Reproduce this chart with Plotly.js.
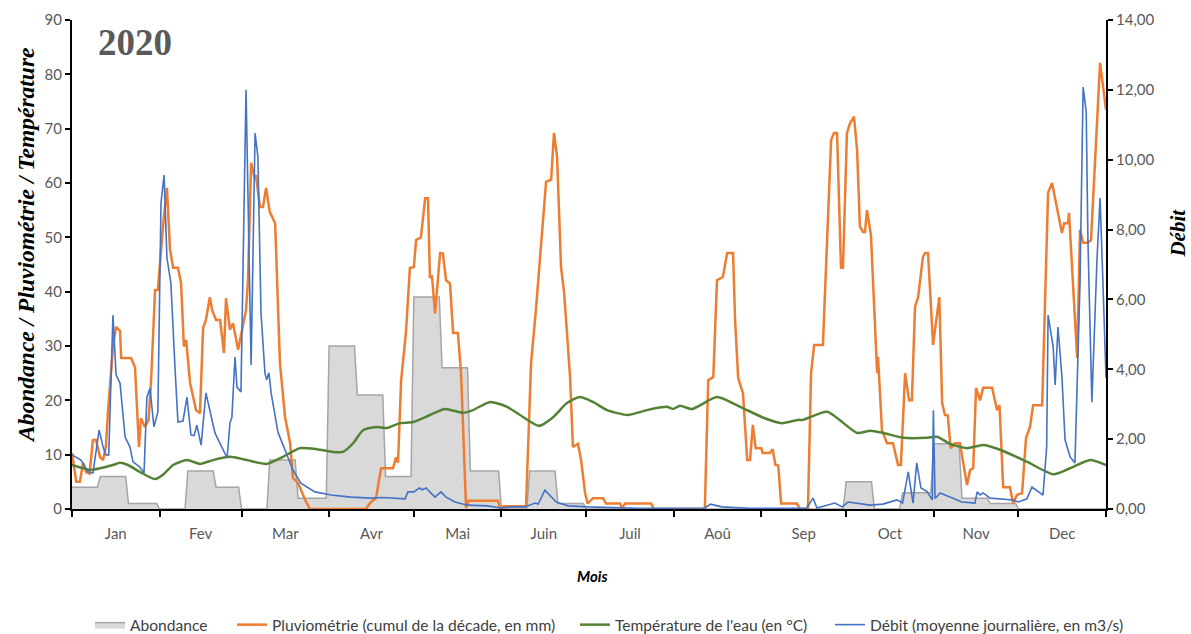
<!DOCTYPE html>
<html>
<head>
<meta charset="utf-8">
<script src="https://cdn.plot.ly/plotly-3.0.1.min.js"></script>
<style>html,body{margin:0;padding:0;background:#fff}#chart{width:1191px;height:634px}</style>
</head>
<body>
<div id="chart"></div>
<script>
// ---- Data ----
const monthLabels = ["Jan","Fev","Mar","Avr","Mai","Juin","Juil","Aoû","Sep","Oct","Nov","Dec"];
const monthStartDays = [0,31,60,91,121,152,182,213,244,274,305,335,366];

// Abondance (decadal values, 3 per month)
const decadeStartDays = [0,10,20, 31,41,51, 60,70,80, 91,101,111, 121,131,141, 152,162,172, 182,192,202, 213,223,233, 244,254,264, 274,284,294, 305,315,325, 335,345,355, 366];
const abondance = [4,6,1, 0,7,4, 0,9,2, 30,21,6, 39,26,7, 0,7,1, 0,0,0, 0,0,0, 0,0,0, 5,0,3, 12,2,1, 0,0,0];

// Pluviométrie (cumul de la décade, mm)
const pluvioDays = [0,1.5,2.8,3.9,5,6.2,7.4,8.5,9.9,11,12,12.7,14.5,15.6,17,17.4,20.9,22.3,23.7,24.4,25.8,27.1,28,29.4,30.4,32.2,33.6,34.7,35.8,37.5,38.6,39.6,40.4,41.8,43.9,45.3,46.4,47.4,48.8,49.6,51,52.4,53.8,54.5,55.9,57,58.8,60.5,61.6,62.3,63.4,64.8,65.1,66.5,67.6,68.7,70,71.9,73.6,75.4,77.2,78.2,80,82.5,84.2,104,105.8,107.6,109.4,113.6,114.7,115.4,116.5,118.2,119.6,121,121.8,123.5,125,126,126.7,127.4,128.5,130.3,131.3,132.4,133.8,134.9,136.6,137.7,139.5,140.3,150.8,151.6,152.6,160.7,162.5,164.2,165.7,167.8,169.6,170.6,171.7,173.1,174.2,176.3,177.3,179.1,180.2,181.6,182.5,184.4,188,189,194,194.6,195.8,205,206,224,225.2,227,228.3,230.4,231.9,234,234.7,235.8,237.5,239,240,241,242,244,244.5,247,248,249,250,251,256.6,257.7,260.5,261.6,262.7,265.8,268.7,269.7,270.8,272.2,272.9,274.3,275.4,276.8,277.9,278.9,280,280.7,281.4,282.8,285,285.3,286.7,288.5,290.6,292.4,293.4,294.9,296.3,297.3,298.4,299.5,301.2,302,303,304.8,307,308,309,310,311,312.6,314.3,316.8,317.9,319,320,321.4,322.5,325.7,327.4,328.3,329.6,332,333.1,334.5,336.3,337.7,339.1,340.2,343.4,345.5,346.9,348.7,350.4,351.2,352.6,352.9,354.3,355.8,356.8,357.9,359.6,360.7,363.9,366];
const pluvioVals = [10.3,5,5,8.5,6.8,6.5,12.7,12.7,9.6,9,11.5,17.6,29.9,33.5,32.8,27.8,27.8,26.1,11.4,16.7,15.1,16.4,23.7,40.3,40.3,52,59.1,47.7,44.4,44.4,41.6,29.9,31.1,23.2,18.2,17.6,33.3,34.8,39,36.6,34.8,34.8,28.7,38.8,33,34.2,29.3,33.5,36.6,42.1,63.7,60.6,61.5,55.6,55.6,59.1,54.7,52.6,26.9,17,12.1,5.7,4.8,1.7,0,0,1.3,2,7.5,7.5,9.5,8.5,23.7,32.4,44.4,44.5,49.5,50,57.2,57.2,42.5,43,36,47.1,47,42.1,41.5,32.4,32.4,25,0.2,1.5,1.5,0,0.5,0.5,26.9,36.6,46.4,60.2,60.6,69.2,64.8,44.5,39.8,24.3,11.4,12,9,3,1,2,2,1,1,0.2,1,1,0,0,23.7,24.3,42.1,42.7,47.1,47.1,34.8,24.1,21.3,9,9,15.5,11.2,11.2,10.3,10.3,11,8.1,8,1,1,0,0,25,30.2,30.2,67.9,69.2,69.2,44.4,44.4,69.2,71,72.2,66,52,51,51,55,50.4,25,28,14.5,12.1,12.1,8.1,8.1,25,20,20,37.2,39,46.4,47.1,47.1,30.2,39,19.5,17.3,17.2,11.2,12.1,12.1,4.4,7.2,7.5,22.3,20,22.3,22.3,18.2,19.1,4,4,1,2.6,2.9,13.1,15.1,19.1,19.1,58.2,60,55.6,50.8,52.6,52.6,54.5,40.3,27.8,51.4,49,49,49.5,82.1,73.5];

// Température de l'eau (°C)
const tempDays = [0,6.4,9.9,14.5,17,19.8,24.1,29.4,32.2,35.8,40.7,45.3,49.9,55.9,61.9,69,74.7,80.7,86.7,92.4,95.9,99.5,103,108,111.5,116.1,120.7,126.7,132,138.4,141.9,148,154,158.6,165.3,170.3,175.2,179.8,184.4,189.4,196.8,203.5,210.6,212.7,215.2,219.5,228.3,236.5,245.2,251.3,257,258.8,267.3,277.9,282.5,287.1,294.2,302.7,306.2,310.8,316.8,322.5,328.5,338,347.3,353.3,360.4,366];
const tempVals = [8.1,7.2,7.5,8.1,8.5,8.1,6.8,5.5,6.3,8.1,9,8.3,9,9.6,9,8.3,9.6,11.2,11,10.5,10.5,12.1,14.5,15.1,14.9,15.8,16,17.3,18.4,17.7,18.2,19.7,18.8,17.3,15.3,16.9,19.5,20.6,19.7,18.2,17.3,18.2,18.8,18.4,19,18.4,20.6,18.8,16.7,15.8,16.4,16.4,17.9,14,14.4,14,13.1,13.1,13.3,12,11.2,11.8,10.9,8.7,6.4,7.5,9,8.1];

// Débit (moyenne journalière, m3/s)
const debitDays = [0,3.2,5.7,7.4,9.6,11,12,13,14.5,15.6,17,18.8,20.5,21.6,24,25.5,26.5,27.6,29,30.4,31.5,32.6,33.6,35,36.5,37.5,39.3,40.7,42.1,43.2,44.2,45.7,47.4,50.6,54.9,55.9,56.6,57.7,58.4,59.8,61.6,63.4,64.8,65.8,66.9,68.3,68.9,69.7,70.5,72.9,75.4,78.2,81,86,91.7,98.8,105.8,110,117.9,118.9,121,123,124,125.3,127,128.5,130.6,132.4,135.6,140,147,151.9,155.5,160.4,163.9,165,167.4,168.5,171.4,175.6,182.7,200,224,226,230,240,260,262.3,263.7,270,272.6,274.7,278,282.5,287,292,294,296,297.7,299,300.5,302.7,304.5,304.9,305.5,307.3,311.8,315,319.6,320.4,321.4,322.5,325,328.5,333.1,335,338,339.8,343.7,345,345.5,347.3,348,349,350.4,351.5,353.3,355,356.8,357.9,359,359.6,361,362.8,363.9,365,366];
const debitVals = [1.55,1.4,1.06,1.03,2.26,1.78,1.55,1.55,5.55,3.84,3.6,2.06,1.78,1.35,1.2,1.03,3.2,3.46,2.35,2.78,8.76,9.56,7.2,6.47,3.98,2.49,2.52,3.2,2.12,2.1,2.4,1.83,3.32,2.18,1.46,2.46,2.63,4.35,3.49,3.35,12.0,4.12,10.76,10.08,5.61,3.89,3.7,3.9,3.32,2.2,1.69,1.12,0.74,0.49,0.4,0.34,0.31,0.33,0.29,0.49,0.49,0.6,0.55,0.6,0.46,0.34,0.49,0.34,0.2,0.11,0.09,0.03,0.06,0.06,0.17,0.14,0.54,0.44,0.2,0.09,0.06,0.02,0.03,0.14,0.06,0.02,0.02,0.31,0.03,0.17,0.06,0.2,0.17,0.11,0.14,0.26,0.17,1.06,0.17,1.32,0.6,0.5,0.26,2.83,0.3,0.46,0.31,0.2,0.17,0.49,0.4,0.46,0.31,0.29,0.26,0.2,0.29,0.63,0.4,1.78,5.55,4.64,3.55,5.21,3.78,1.98,1.49,1.32,6.47,12.08,11.37,7.7,3.06,7.13,8.9,6.27,3.75];

// ---- Build abondance step shape from decadal values ----
const abX = [], abY = [];
for (let i = 0; i < abondance.length; i++) {
  const s = decadeStartDays[i], e = decadeStartDays[i + 1];
  abX.push(s); abY.push(abondance[i]);
  abX.push(i === abondance.length - 1 ? e : e - 1); abY.push(abondance[i]);
}
const monthCenters = monthLabels.map((m, i) => (monthStartDays[i] + monthStartDays[i + 1]) / 2);

const sansFam = "Lato, 'Liberation Sans', sans-serif";
const tickFont = {family: sansFam, size: 15, color: "#595959"};
const legFont = {family: sansFam, size: 15.6, color: "#404040"};
const W = 1191, H = 634;
const legY = 1 - 625 / H;
function leg(px) {
  return {orientation: "h", xref: "container", yref: "container", x: px / W, y: legY,
          xanchor: "left", yanchor: "middle", font: legFont, bgcolor: "rgba(0,0,0,0)"};
}

const traces = [
  {x: abX, y: abY, name: "Abondance", type: "scatter", mode: "lines", fill: "tozeroy",
   fillcolor: "#D9D9D9", line: {color: "#A5A5A5", width: 1.5}, yaxis: "y", legend: "legend"},
  {x: pluvioDays, y: pluvioVals, name: "Pluviométrie (cumul de la décade, en mm)", type: "scatter", mode: "lines",
   line: {color: "#ED7D31", width: 2.5}, yaxis: "y", legend: "legend2"},
  {x: tempDays, y: tempVals, name: "Température de l'eau (en °C)", type: "scatter", mode: "lines",
   line: {color: "#548235", width: 2.5, shape: "spline", smoothing: 0.6}, yaxis: "y", legend: "legend3"},
  {x: debitDays, y: debitVals, name: "Débit (moyenne journalière, en m3/s)", type: "scatter", mode: "lines",
   line: {color: "#4472C4", width: 1.6}, yaxis: "y2", legend: "legend4"}
];

const layout = {
  width: W, height: H,
  margin: {l: 72, r: 85, t: 20, b: 125, autoexpand: false},
  paper_bgcolor: "#fff", plot_bgcolor: "#fff",
  separators: ", ",
  showlegend: true,
  legend: leg(90), legend2: leg(232), legend3: leg(575), legend4: leg(830),
  xaxis: {
    range: [0, 366], showgrid: false, zeroline: false,
    showline: true, linecolor: "#000", linewidth: 2,
    tickmode: "array", tickvals: monthCenters, ticktext: monthLabels,
    ticks: "", ticklabelstandoff: 10, tickfont: tickFont,
    minor: {tickmode: "array", tickvals: monthStartDays, ticks: "outside", ticklen: 6, tickwidth: 2, tickcolor: "#000", showgrid: false}
  },
  yaxis: {
    range: [0, 90], dtick: 10, showgrid: false, zeroline: false,
    showline: true, linecolor: "#000", linewidth: 2,
    ticks: "outside", ticklen: 5, tickwidth: 2, tickcolor: "#000",
    tickfont: tickFont
  },
  yaxis2: {
    range: [0, 14], dtick: 2, overlaying: "y", side: "right", showgrid: false, zeroline: false,
    showline: true, linecolor: "#000", linewidth: 2,
    ticks: "outside", ticklen: 5, tickwidth: 2, tickcolor: "#000",
    tickformat: ".2f", tickfont: tickFont
  },
  annotations: [
    {text: "<b><i>Abondance / Pluviométrie / Température</i></b>", xref: "paper", yref: "paper",
     x: -0.0445, y: 0.54, xanchor: "center", yanchor: "middle", textangle: -90, showarrow: false,
     font: {family: "'Liberation Serif', 'Times New Roman', serif", size: 23.5, color: "#000"}},
    {text: "<b><i>Débit</i></b>", xref: "paper", yref: "paper",
     x: 1.0700, y: 0.564, xanchor: "center", yanchor: "middle", textangle: -90, showarrow: false,
     font: {family: "'Liberation Serif', 'Times New Roman', serif", size: 21, color: "#000"}},
    {text: "<b>2020</b>", xref: "paper", yref: "paper", x: 0.0609, y: 0.955,
     xanchor: "center", yanchor: "middle", showarrow: false,
     font: {family: "'Liberation Serif', 'Times New Roman', serif", size: 37, color: "#595959"}},
    {text: "<b><i>Mois</i></b>", xref: "paper", yref: "paper", x: 0.503, y: -0.137,
     xanchor: "center", yanchor: "middle", showarrow: false,
     font: {family: sansFam, size: 15, color: "#000"}}
  ]
};

Plotly.newPlot("chart", traces, layout, {displayModeBar: false, staticPlot: true});
</script>
</body>
</html>
